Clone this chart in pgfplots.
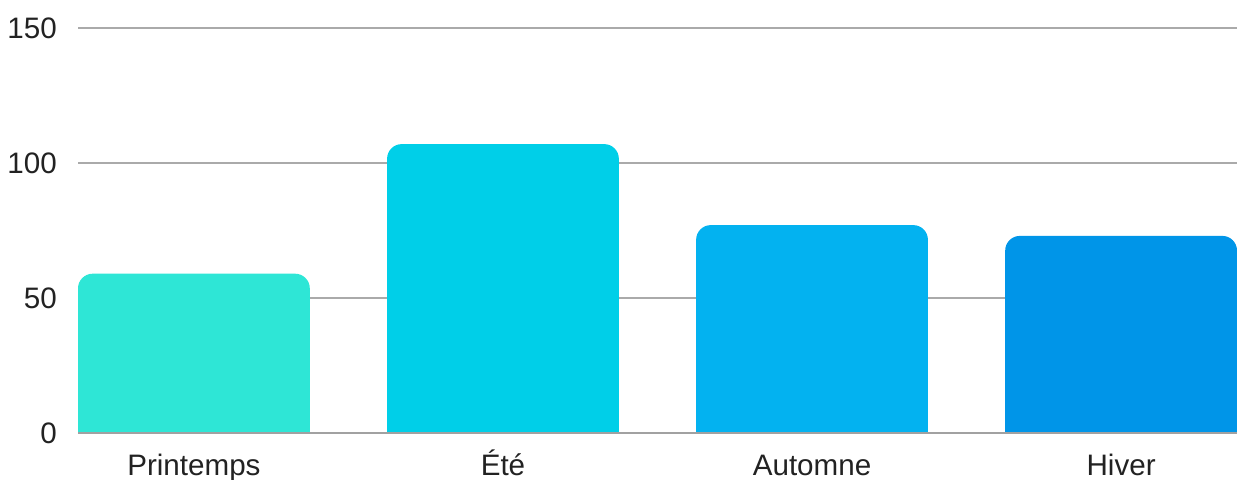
\documentclass[border=0pt]{standalone}
\usepackage{pgfplots}
\pgfplotsset{compat=1.18}
\usepackage{fontspec}
\setmainfont{Liberation Sans}

\definecolor{gridc}{RGB}{170,170,170}
\definecolor{txt}{RGB}{34,34,34}
\definecolor{cPrin}{RGB}{46,230,214}
\definecolor{cEte}{RGB}{0,207,232}
\definecolor{cAut}{RGB}{3,178,240}
\definecolor{cHiv}{RGB}{0,149,232}

% one bar: rounded top, square foot drawn over the lower rounded corners
\newcommand{\seasonbar}[3]{%
  \addplot[fill=#3, draw=none, rounded corners=11pt] coordinates {(#1,#2)};
  \addplot[fill=#3, draw=none] coordinates {(#1,#2-10)};
}

\begin{document}
\begin{tikzpicture}
\useasboundingbox (0,0) rectangle (927.75pt,359.25pt);
\begin{axis}[
    at={(58.5pt,34.5pt)}, anchor=south west,
    scale only axis,
    width=869.25pt, height=303.75pt,
    ybar, bar width=0.75, bar shift=0pt,
    xmin=-0.375, xmax=3.375,
    ymin=0, ymax=150,
    xtick={0,1,2,3},
    xticklabels={Printemps,Été,Automne,Hiver},
    ytick={0,50,100,150},
    ymajorgrids,
    grid style={gridc, line width=1.5pt},
    axis line style={draw=none},
    major tick length=0pt,
    tick style={draw=none},
    clip=false,
    font=\fontsize{22.2}{26}\selectfont,
    tick label style={text=txt},
    /pgf/number format/assume math mode=true,
    yticklabel style={anchor=east, inner sep=0pt, xshift=-15.75pt},
    xticklabel style={anchor=base, inner sep=0pt, yshift=-31.5pt},
]
\seasonbar{0}{59}{cPrin}
\seasonbar{1}{107}{cEte}
\seasonbar{2}{77}{cAut}
\seasonbar{3}{73}{cHiv}
\draw[gridc!95!black, line width=1.5pt] (rel axis cs:0,0) -- (rel axis cs:1,0);
\end{axis}
\end{tikzpicture}
\end{document}
